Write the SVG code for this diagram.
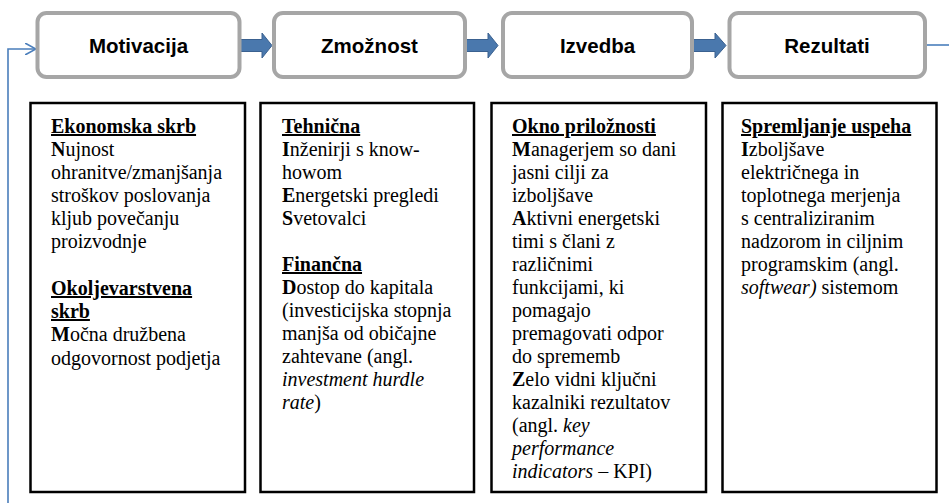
<svg xmlns="http://www.w3.org/2000/svg" width="949" height="503" viewBox="0 0 949 503">
<defs>
<marker id="open" viewBox="0 0 12 12" refX="11" refY="6" markerWidth="12" markerHeight="12" markerUnits="userSpaceOnUse" orient="auto"><path d="M0,0 L11,6 L0,12" fill="none" stroke="#4a7ebb" stroke-width="1.6"/></marker>
</defs>
<style>
.stage{fill:#fff;stroke:#a6a6a6;stroke-width:4}
.stxt{font-family:"Liberation Sans",Arial,sans-serif;font-weight:bold;font-size:20.5px;fill:#000;text-anchor:middle}
.box{fill:#fff;stroke:#000;stroke-width:2.5}
.t{font-family:"Liberation Serif","Times New Roman",serif;font-size:20px;fill:#000}
.h{font-weight:bold;text-decoration:underline}
.b{font-weight:bold}
.i{font-style:italic}
.blk{fill:#4a78ad;stroke:#3a6190;stroke-width:1}
.conn{fill:none;stroke:#4a7ebb;stroke-width:1.6}
</style>
<rect width="949" height="503" fill="#fff"/>
<g id="connectors">
<path class="blk" d="M240,39.5 H262 V33 L272,45.5 L262,58 V51.5 H240 Z"/>
<path class="blk" d="M466,39.5 H488 V33 L498,45.5 L488,58 V51.5 H466 Z"/>
<path class="blk" d="M692,39.5 H715 V33 L726,45.5 L715,58 V51.5 H692 Z"/>
<path class="conn" d="M927,45 H949"/>
<path class="conn" d="M8,503 V49 H36" marker-end="url(#open)"/>
</g>
<g id="motivacija"><rect class="stage" x="37.5" y="13" width="202" height="64" rx="9"/><text class="stxt" x="138.5" y="53">Motivacija</text></g>
<g id="zmoznost"><rect class="stage" x="274" y="13" width="191" height="64" rx="9"/><text class="stxt" x="369.5" y="53">Zmožnost</text></g>
<g id="izvedba"><rect class="stage" x="503" y="13" width="189" height="64" rx="9"/><text class="stxt" x="597.5" y="53">Izvedba</text></g>
<g id="rezultati"><rect class="stage" x="729.5" y="13" width="195.5" height="64" rx="9"/><text class="stxt" x="827" y="53">Rezultati</text></g>
<g id="box-motivacija">
<rect class="box" x="30.5" y="103" width="214.5" height="389"/>
<text class="t" x="51"><tspan x="51" y="133" class="h">Ekonomska skrb</tspan><tspan x="51" y="156"><tspan class="b">N</tspan>ujnost</tspan><tspan x="51" y="179">ohranitve/zmanjšanja</tspan><tspan x="51" y="202">stroškov poslovanja</tspan><tspan x="51" y="225">kljub povečanju</tspan><tspan x="51" y="248">proizvodnje</tspan><tspan x="51" y="295" class="h">Okoljevarstvena</tspan><tspan x="51" y="318" class="h">skrb</tspan><tspan x="51" y="341"><tspan class="b">M</tspan>očna družbena</tspan><tspan x="51" y="365">odgovornost podjetja</tspan></text>
</g>
<g id="box-zmoznost">
<rect class="box" x="260.5" y="103" width="213.5" height="389"/>
<text class="t"><tspan x="282" y="133" class="h">Tehnična</tspan><tspan x="282" y="156"><tspan class="b">I</tspan>nženirji s know-</tspan><tspan x="282" y="179">howom</tspan><tspan x="282" y="202"><tspan class="b">E</tspan>nergetski pregledi</tspan><tspan x="282" y="225"><tspan class="b">S</tspan>vetovalci</tspan><tspan x="282" y="271" class="h">Finančna</tspan><tspan x="282" y="294"><tspan class="b">D</tspan>ostop do kapitala</tspan><tspan x="282" y="317">(investicijska stopnja</tspan><tspan x="282" y="340">manjša od običajne</tspan><tspan x="282" y="363">zahtevane (angl.</tspan><tspan x="282" y="386" class="i">investment hurdle</tspan><tspan x="282" y="409"><tspan class="i">rate</tspan>)</tspan></text>
</g>
<g id="box-izvedba">
<rect class="box" x="491.5" y="103" width="214.5" height="389"/>
<text class="t"><tspan x="512" y="133" class="h">Okno priložnosti</tspan><tspan x="512" y="156"><tspan class="b">M</tspan>anagerjem so dani</tspan><tspan x="512" y="179">jasni cilji za</tspan><tspan x="512" y="202">izboljšave</tspan><tspan x="512" y="225"><tspan class="b">A</tspan>ktivni energetski</tspan><tspan x="512" y="248">timi s člani z</tspan><tspan x="512" y="271">različnimi</tspan><tspan x="512" y="294">funkcijami, ki</tspan><tspan x="512" y="317">pomagajo</tspan><tspan x="512" y="340">premagovati odpor</tspan><tspan x="512" y="363">do sprememb</tspan><tspan x="512" y="386"><tspan class="b">Z</tspan>elo vidni ključni</tspan><tspan x="512" y="409">kazalniki rezultatov</tspan><tspan x="512" y="432">(angl. <tspan class="i">key</tspan></tspan><tspan x="512" y="455" class="i">performance</tspan><tspan x="512" y="478"><tspan class="i">indicators</tspan> – KPI)</tspan></text>
</g>
<g id="box-rezultati">
<rect class="box" x="722.5" y="103" width="214" height="389"/>
<text class="t"><tspan x="741" y="133" class="h">Spremljanje uspeha</tspan><tspan x="741" y="156"><tspan class="b">I</tspan>zboljšave</tspan><tspan x="741" y="179">električnega in</tspan><tspan x="741" y="202">toplotnega merjenja</tspan><tspan x="741" y="225">s centraliziranim</tspan><tspan x="741" y="248">nadzorom in ciljnim</tspan><tspan x="741" y="271">programskim (angl.</tspan><tspan x="741" y="294"><tspan class="i">softwear)</tspan> sistemom</tspan></text>
</g>
</svg>
